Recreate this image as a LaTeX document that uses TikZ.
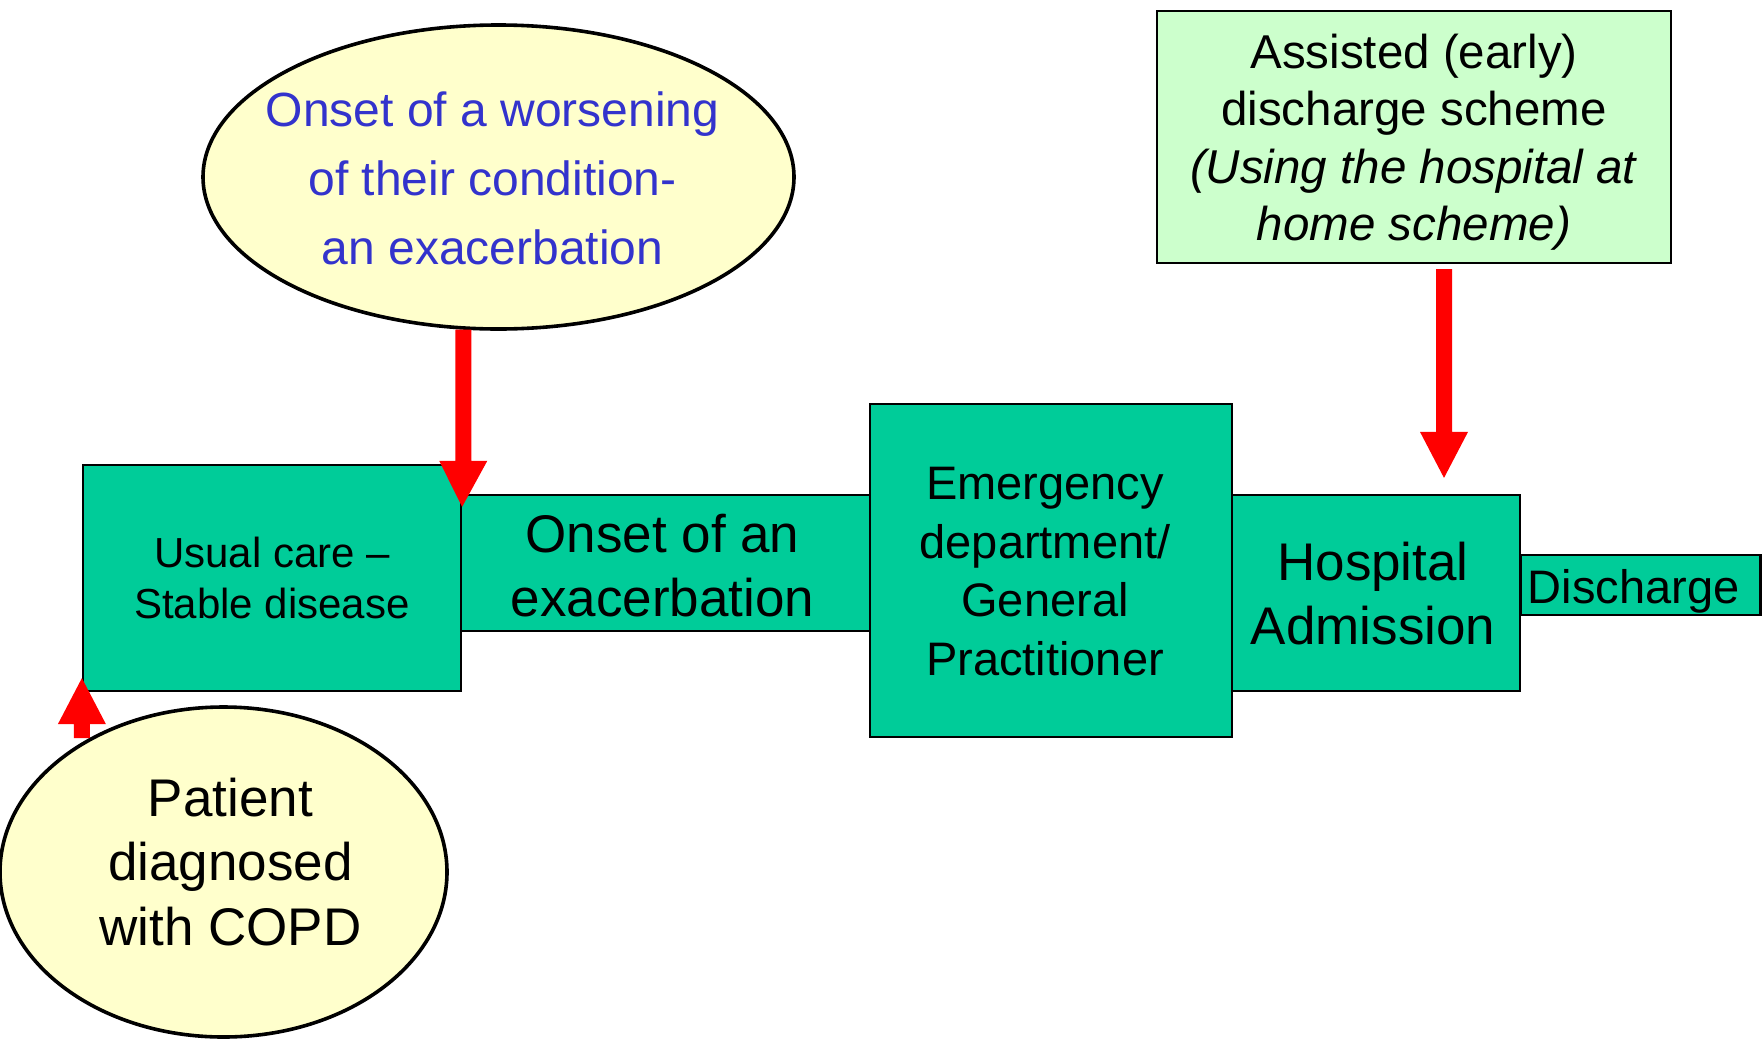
\documentclass[tikz,border=0pt]{standalone}
\usepackage{fontspec}
\setmainfont{Liberation Sans}
\usetikzlibrary{shapes.geometric,calc}

\definecolor{stepgreen}{HTML}{00CC99}
\definecolor{palegreen}{HTML}{CCFFCC}
\definecolor{paleyellow}{HTML}{FFFFCC}
\definecolor{labelblue}{HTML}{3333CC}

% Vertical block arrow from #1 (tail, shaft centre) to #2 (tip)
\newcommand{\fatarrow}[2]{%
  \fill[red] let \p1=(#1), \p2=(#2), \n1={sign(\y2-(\y1))} in
    ({\x1-8pt},{\y1}) -- ({\x1-8pt},{\y2-(\n1)*46pt}) -- ({\x1-24pt},{\y2-(\n1)*46pt})
    -- (\x2,\y2)
    -- ({\x1+24pt},{\y2-(\n1)*46pt}) -- ({\x1+8pt},{\y2-(\n1)*46pt}) -- ({\x1+8pt},{\y1}) -- cycle;}

\tikzset{
  stepbox/.style={draw=black, line width=2.2pt, fill=stepgreen, inner sep=0pt, align=center},
  notebox/.style={draw=black, line width=2.2pt, fill=palegreen, inner sep=0pt, align=center},
  bubble/.style={draw=black, line width=3.6pt, fill=paleyellow, ellipse, inner sep=0pt},
  plaintext/.style={inner sep=0pt, align=center},
}

\begin{document}
\begin{tikzpicture}[x=1pt, y=-1pt]
  \useasboundingbox[fill=white] (0,0) rectangle (1764,1039);

  % care pathway boxes
  \node[stepbox, minimum width=409pt, minimum height=136pt] (onset) at (665.5,563) {};
  \node[plaintext, font=\fontsize{53}{64}\selectfont] (onsettext)
        at ($(onset.center)+(-3,3)$) {Onset of an\\exacerbation};

  \node[stepbox, minimum width=378pt, minimum height=226pt,
        font=\fontsize{42}{51}\selectfont] (usual) at (272,578)
        {Usual care --\\Stable disease};

  \node[stepbox, minimum width=362pt, minimum height=333pt] (emerg) at (1051,570.5) {};
  \node[plaintext, font=\fontsize{47}{58.5}\selectfont] (emergtext)
        at ($(emerg.center)+(-6,1)$) {Emergency\\department/\\General\\Practitioner};

  \node[stepbox, minimum width=288pt, minimum height=196pt] (hosp) at (1376,593) {};
  \node[plaintext, font=\fontsize{53}{64}\selectfont] (hosptext)
        at ($(hosp.center)+(-3,1)$) {Hospital\\Admission};

  \node[stepbox, minimum width=240pt, minimum height=60pt] (disch) at (1640.5,585) {};
  \node[plaintext, font=\fontsize{47}{56}\selectfont] (dischtext)
        at ($(disch.center)+(-7,6)$) {Discharge};

  % early discharge scheme
  \node[notebox, minimum width=514pt, minimum height=252pt] (assist) at (1414,137) {};
  \node[plaintext, font=\fontsize{47.5}{57.5}\selectfont] (assisttext)
        at ($(assist.center)+(0,5)$)
        {Assisted (early)\\discharge scheme\\\textit{(Using the hospital at}\\\textit{home scheme)}};

  % ellipses
  \node[bubble, minimum width=591pt, minimum height=304pt] (worse) at (498.5,177) {};
  \node[plaintext, text=labelblue, font=\fontsize{48}{69}\selectfont] (worsetext)
        at ($(worse.center)+(-6,1)$) {Onset of a worsening\\of their condition-\\an exacerbation};

  \node[bubble, minimum width=447pt, minimum height=330pt] (diag) at (223.5,872) {};
  \node[plaintext, font=\fontsize{53}{64.5}\selectfont] (diagtext)
        at ($(diag.center)+(7,-10)$) {Patient\\diagnosed\\with COPD};

  % red arrows
  \coordinate (a1tail) at (worse.-103.9);
  \coordinate (a1tip) at ($(usual.north east)+(0,43)$);
  \fatarrow{a1tail}{a1tip}

  \coordinate (a2tail) at ($(usual.south west)+(0,46)$);
  \coordinate (a2tip) at ($(usual.south west)+(0,-14)$);
  \fatarrow{a2tail}{a2tip}

  \coordinate (a3tail) at ($(assist.south)+(30,5)$);
  \coordinate (a3tip) at ($(hosp.north)+(68,-16)$);
  \fatarrow{a3tail}{a3tip}
\end{tikzpicture}
\end{document}
